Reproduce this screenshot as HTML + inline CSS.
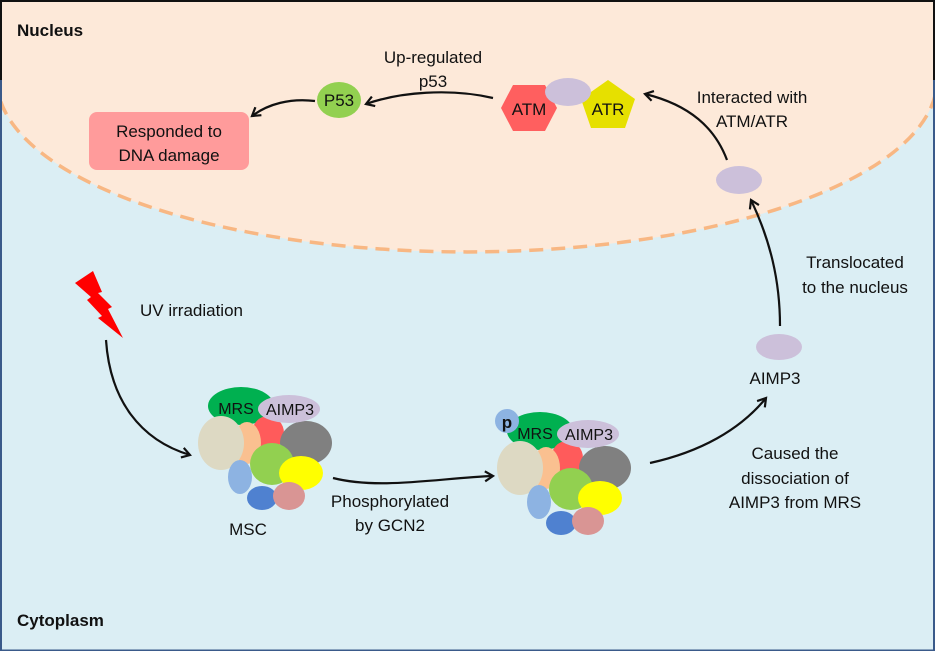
<!DOCTYPE html>
<html><head><meta charset="utf-8"><style>
html,body{margin:0;padding:0;background:#fff}
svg{display:block}
text{font-family:"Liberation Sans",sans-serif;fill:#111}
</style></head><body>
<svg width="935" height="651" viewBox="0 0 935 651" xmlns="http://www.w3.org/2000/svg">
<defs>
<marker id="ah" markerWidth="12" markerHeight="12" refX="9" refY="6" orient="auto" markerUnits="userSpaceOnUse">
<path d="M1,1 L9,6 L1,11" fill="none" stroke="#111" stroke-width="2.2"/>
</marker>
</defs>
<rect x="0" y="0" width="935" height="651" fill="#dbeef4"/>
<rect x="0" y="0" width="935" height="80" fill="#fde9d9"/>
<path d="M-3,80 A470,172 0 0 0 937,80 Z" fill="#fde9d9"/>
<path d="M-3,80 A470,172 0 0 0 937,80" fill="none" stroke="#f8b783" stroke-width="3.5" stroke-dasharray="14,8"/>
<path d="M1,651 L1,80" stroke="#3a5a8a" stroke-width="2"/>
<path d="M934,651 L934,80" stroke="#3a5a8a" stroke-width="2"/>
<path d="M1,651 L934,651" stroke="#3a5a8a" stroke-width="3"/>
<path d="M1,80 L1,1 L934,1 L934,80" fill="none" stroke="#111" stroke-width="2"/>

<text x="17" y="36" font-size="17" font-weight="bold">Nucleus</text>
<text x="17" y="626" font-size="17" font-weight="bold">Cytoplasm</text>

<text x="433" y="63" font-size="17" text-anchor="middle">Up-regulated</text>
<text x="433" y="87" font-size="17" text-anchor="middle">p53</text>

<rect x="89" y="112" width="160" height="58" rx="8" fill="#ff9b9b"/>
<text x="169" y="137" font-size="17" text-anchor="middle">Responded to</text>
<text x="169" y="161" font-size="17" text-anchor="middle">DNA damage</text>

<ellipse cx="339" cy="100" rx="22" ry="18" fill="#92d050"/>
<text x="339" y="106" font-size="17" text-anchor="middle">P53</text>

<path d="M315,101 C290,98 268,104 252,116" fill="none" stroke="#111" stroke-width="2.2" marker-end="url(#ah)"/>
<path d="M493,98 C450,88 400,92 366,104" fill="none" stroke="#111" stroke-width="2.2" marker-end="url(#ah)"/>

<polygon points="501,108 513,85 545,85 557,108 545,131 513,131" fill="#ff5f5f"/>
<text x="529" y="115" font-size="17" text-anchor="middle">ATM</text>
<polygon points="608,80 635,99 625,128 591,128 581,99" fill="#e6e000"/>
<ellipse cx="568" cy="92" rx="23" ry="14" fill="#ccc0da"/>
<text x="608" y="115" font-size="17" text-anchor="middle">ATR</text>

<text x="752" y="103" font-size="17" text-anchor="middle">Interacted with</text>
<text x="752" y="127" font-size="17" text-anchor="middle">ATM/ATR</text>
<path d="M727,160 C715,128 690,105 645,94" fill="none" stroke="#111" stroke-width="2.2" marker-end="url(#ah)"/>
<ellipse cx="739" cy="180" rx="23" ry="14" fill="#ccc0da"/>
<path d="M780,326 C780,280 770,240 751,200" fill="none" stroke="#111" stroke-width="2.2" marker-end="url(#ah)"/>
<text x="855" y="268" font-size="17" text-anchor="middle">Translocated</text>
<text x="855" y="293" font-size="17" text-anchor="middle">to the nucleus</text>

<ellipse cx="779" cy="347" rx="23" ry="13" fill="#ccc0da"/>
<text x="775" y="384" font-size="17" text-anchor="middle">AIMP3</text>
<path d="M650,463 C700,452 740,430 766,398" fill="none" stroke="#111" stroke-width="2.2" marker-end="url(#ah)"/>
<text x="795" y="459" font-size="17" text-anchor="middle">Caused the</text>
<text x="795" y="484" font-size="17" text-anchor="middle">dissociation of</text>
<text x="795" y="508" font-size="17" text-anchor="middle">AIMP3 from MRS</text>

<polygon points="75,283 93,271 102,292 98,293 112,307 108,309 123,338 98,318 102,316 87,300 91,297" fill="#ff0000"/>
<text x="140" y="316" font-size="17">UV irradiation</text>
<path d="M106,340 C110,400 140,440 190,455" fill="none" stroke="#111" stroke-width="2.2" marker-end="url(#ah)"/>

<g>
<ellipse cx="241" cy="406" rx="33" ry="19" fill="#00b050"/>
<ellipse cx="268" cy="433" rx="16" ry="17" fill="#ff5b5b"/>
<ellipse cx="306" cy="443" rx="26" ry="22" fill="#808080"/>
<ellipse cx="289" cy="409" rx="31" ry="14" fill="#ccc0da"/>
<ellipse cx="247" cy="443" rx="14" ry="21" fill="#fac090"/>
<ellipse cx="221" cy="443" rx="23" ry="27" fill="#ddd9c3"/>
<ellipse cx="240" cy="477" rx="12" ry="17" fill="#8db3e2"/>
<ellipse cx="272" cy="464" rx="22" ry="21" fill="#92d050"/>
<ellipse cx="301" cy="473" rx="22" ry="17" fill="#ffff00"/>
<ellipse cx="262" cy="498" rx="15" ry="12" fill="#4f81d0"/>
<ellipse cx="289" cy="496" rx="16" ry="14" fill="#d99594"/>
<text x="236" y="414" font-size="16" text-anchor="middle">MRS</text>
<text x="290" y="415" font-size="16" text-anchor="middle">AIMP3</text>
</g>
<text x="248" y="535" font-size="17" text-anchor="middle">MSC</text>

<path d="M333,478 C380,490 440,478 493,476" fill="none" stroke="#111" stroke-width="2.2" marker-end="url(#ah)"/>
<text x="390" y="507" font-size="17" text-anchor="middle">Phosphorylated</text>
<text x="390" y="531" font-size="17" text-anchor="middle">by GCN2</text>

<g transform="translate(299,25)">
<ellipse cx="241" cy="406" rx="33" ry="19" fill="#00b050"/>
<ellipse cx="268" cy="433" rx="16" ry="17" fill="#ff5b5b"/>
<ellipse cx="306" cy="443" rx="26" ry="22" fill="#808080"/>
<ellipse cx="289" cy="409" rx="31" ry="14" fill="#ccc0da"/>
<ellipse cx="247" cy="443" rx="14" ry="21" fill="#fac090"/>
<ellipse cx="221" cy="443" rx="23" ry="27" fill="#ddd9c3"/>
<ellipse cx="240" cy="477" rx="12" ry="17" fill="#8db3e2"/>
<ellipse cx="272" cy="464" rx="22" ry="21" fill="#92d050"/>
<ellipse cx="301" cy="473" rx="22" ry="17" fill="#ffff00"/>
<ellipse cx="262" cy="498" rx="15" ry="12" fill="#4f81d0"/>
<ellipse cx="289" cy="496" rx="16" ry="14" fill="#d99594"/>
<text x="236" y="414" font-size="16" text-anchor="middle">MRS</text>
<text x="290" y="415" font-size="16" text-anchor="middle">AIMP3</text>
</g>
<circle cx="507" cy="421" r="12" fill="#8db3e2"/>
<text x="507" y="428" font-size="17" font-weight="bold" text-anchor="middle">p</text>
</svg>
</body></html>
